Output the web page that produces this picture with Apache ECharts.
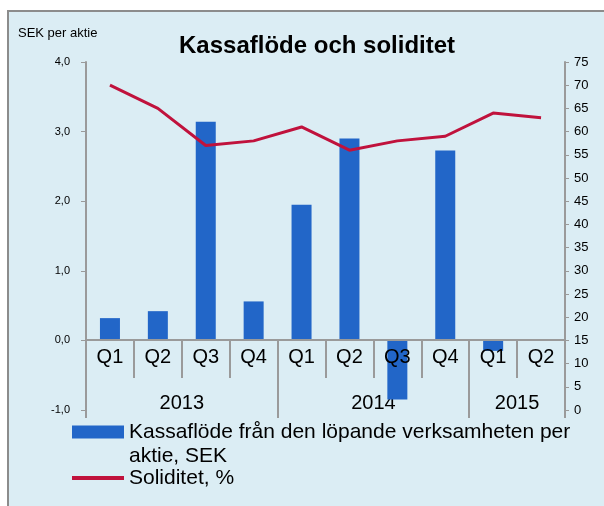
<!DOCTYPE html>
<html>
<head>
<meta charset="utf-8">
<script src="https://cdn.jsdelivr.net/npm/echarts@6/dist/echarts.min.js"></script>
<style>
    html, body { margin: 0; padding: 0; background: #ffffff; }
    #chart { width: 604px; height: 506px; }
</style>
</head>
<body>
<div id="chart"></div>
<script>
// kvartal och år
let quarters = ["Q1", "Q2", "Q3", "Q4", "Q1", "Q2", "Q3", "Q4", "Q1", "Q2"];
let years = ["2013", "2014", "2015"];
let yearLabelPos = [2, 6, 9];
let yearBounds = [0, 4, 8, 10];

// kassaflöde per aktie, SEK
let cashflow = [0.32, 0.42, 3.14, 0.56, 1.95, 2.90, -0.85, 2.73, -0.15, 0.02];
// soliditet, %
let solidity = [70, 65, 57, 58, 61, 56, 58, 59, 64, 63];

let barName = "Kassaflöde från den löpande verksamheten per\naktie, SEK";
let lineName = "Soliditet, %";

document.addEventListener("DOMContentLoaded", function () {
    let chart = echarts.init(document.getElementById("chart"));
    let font = "Liberation Sans, Arial, sans-serif";
    let axisGray = "#9a9a9a";

    let option = {
        backgroundColor: "#ffffff",
        textStyle: { fontFamily: font },
        graphic: [
            {
                type: "rect",
                left: 7,
                top: 10,
                shape: { width: 620, height: 520 },
                style: { fill: "#dbedf4", stroke: "#8c8c8c", lineWidth: 2 },
                z: -10
            }
        ],
        title: {
            text: "Kassaflöde och soliditet",
            left: 174,
            top: 29,
            textStyle: { fontSize: 24, fontWeight: "bold", color: "#000", fontFamily: font }
        },
        legend: [
            {
                data: [{ name: barName, icon: "rect" }],
                left: 72,
                top: 396,
                padding: 0,
                itemWidth: 52,
                itemHeight: 13,
                itemGap: 4,
                // tom rad först så att ikonen hamnar vid första textraden
                formatter: function (name) { return "\n" + name; },
                textStyle: { fontSize: 21, color: "#000", lineHeight: 24, fontFamily: font }
            },
            {
                data: [{ name: lineName, icon: "rect" }],
                left: 72,
                top: 466,
                padding: 0,
                itemWidth: 52,
                itemHeight: 4,
                itemGap: 4,
                textStyle: { fontSize: 21, color: "#000", lineHeight: 24, fontFamily: font }
            }
        ],
        grid: { left: 86, right: 39, top: 62, bottom: 96 },
        xAxis: [
            {
                type: "category",
                data: quarters,
                position: "bottom",
                offset: -70,
                z: 5,
                axisLine: { onZero: false, lineStyle: { color: axisGray, width: 2 } },
                axisTick: { show: true, interval: 0, length: 38, lineStyle: { color: axisGray, width: 2 } },
                axisLabel: { interval: 0, fontSize: 20, color: "#000", margin: 7 }
            },
            {
                type: "value",
                min: 0,
                max: 10,
                position: "bottom",
                offset: 8,
                splitLine: { show: false },
                axisLine: { show: false, onZero: false },
                axisTick: {
                    show: true,
                    inside: true,
                    length: 78,
                    customValues: yearBounds,
                    lineStyle: { color: axisGray, width: 2 }
                },
                axisLabel: {
                    inside: true,
                    margin: 5,
                    fontSize: 20,
                    color: "#000",
                    customValues: yearLabelPos,
                    formatter: function (v) {
                        return years[yearLabelPos.indexOf(v)];
                    }
                }
            }
        ],
        yAxis: [
            {
                type: "value",
                min: -1,
                max: 4,
                interval: 1,
                name: "SEK per aktie",
                nameGap: 22,
                nameTextStyle: { fontSize: 13, color: "#000", align: "left", padding: [0, 0, 0, -68] },
                splitLine: { show: false },
                axisLine: { show: true, lineStyle: { color: axisGray, width: 2 } },
                axisTick: { show: true, length: 5, lineStyle: { color: axisGray } },
                axisLabel: {
                    fontSize: 11,
                    color: "#000",
                    margin: 16,
                    formatter: function (v) { return v.toFixed(1).replace(".", ","); }
                }
            },
            {
                type: "value",
                min: 0,
                max: 75,
                interval: 5,
                position: "right",
                splitLine: { show: false },
                axisLine: { show: true, lineStyle: { color: axisGray, width: 2 } },
                axisTick: { show: true, length: 4, lineStyle: { color: axisGray } },
                axisLabel: { fontSize: 13, color: "#000", margin: 9 }
            }
        ],
        series: [
            {
                name: barName,
                type: "bar",
                data: cashflow,
                barWidth: 20,
                z: 1,
                itemStyle: { color: "#2266c8" }
            },
            {
                name: lineName,
                type: "line",
                yAxisIndex: 1,
                data: solidity,
                symbol: "none",
                lineStyle: { color: "#c0123c", width: 3 },
                itemStyle: { color: "#c0123c" }
            }
        ]
    };
    chart.setOption(option);
});
</script>
</body>
</html>
